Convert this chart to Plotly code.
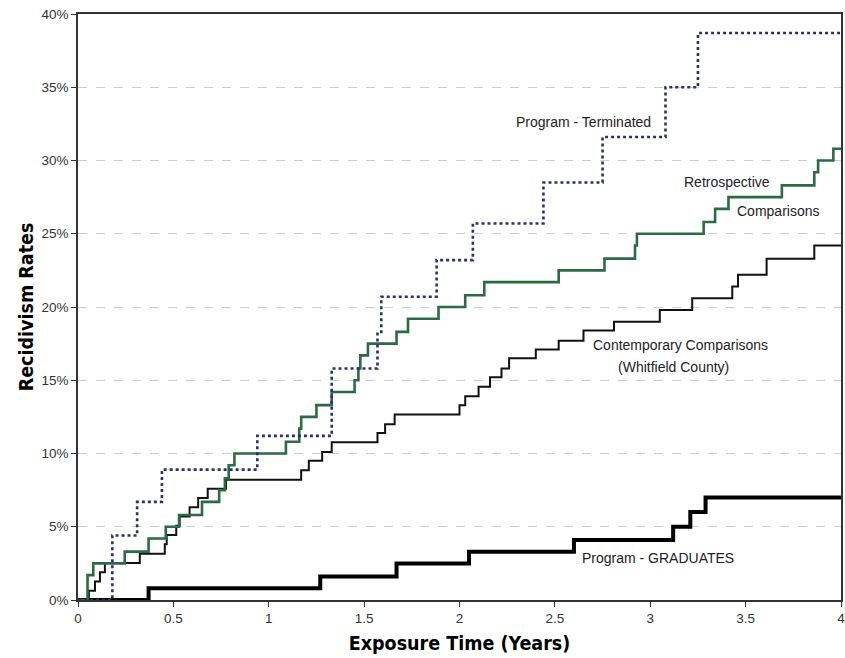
import plotly.graph_objects as go

# Program - Terminated (dotted navy)
term_t = [0, 0.18, 0.31, 0.44, 0.94, 1.33, 1.57, 1.59, 1.88, 2.07, 2.44, 2.75, 3.08, 3.25, 4.0]
term_r = [0, 4.4, 6.7, 8.9, 11.2, 15.8, 18.3, 20.7, 23.2, 25.7, 28.5, 31.6, 35.0, 38.7, 38.7]

# Retrospective Comparisons (green)
retro_t = [0, 0.05, 0.08, 0.245, 0.37, 0.46, 0.53, 0.65, 0.74, 0.77, 0.79, 0.82, 1.09, 1.16, 1.17,
           1.25, 1.33, 1.45, 1.47, 1.48, 1.52, 1.67, 1.73, 1.89, 2.03, 2.13, 2.52, 2.76, 2.92,
           2.93, 3.28, 3.34, 3.41, 3.69, 3.86, 3.88, 3.96, 4.0]
retro_r = [0, 1.7, 2.5, 3.3, 4.2, 5.0, 5.8, 6.7, 7.5, 8.3, 9.2, 10.0, 10.8, 11.7, 12.5,
           13.3, 14.2, 15.0, 15.8, 16.7, 17.5, 18.3, 19.2, 20.0, 20.8, 21.7, 22.5, 23.3, 24.2,
           25.0, 25.8, 26.7, 27.5, 28.3, 29.2, 30.0, 30.8, 30.8]

# Contemporary Comparisons (Whitfield County) (thin black)
cont_t = [0, 0.057, 0.089, 0.115, 0.141, 0.324, 0.455, 0.465, 0.515, 0.533, 0.585, 0.63, 0.68,
          0.776, 1.17, 1.21, 1.28, 1.33, 1.57, 1.61, 1.66, 2.0, 2.03, 2.1, 2.16, 2.22, 2.26,
          2.4, 2.52, 2.65, 2.81, 3.05, 3.22, 3.43, 3.46, 3.61, 3.86, 4.0]
cont_r = [0, 0.63, 1.27, 1.9, 2.53, 3.16, 3.8, 4.43, 5.06, 5.7, 6.33, 6.96, 7.6,
          8.2, 8.86, 9.5, 10.1, 10.76, 11.4, 12.0, 12.66, 13.3, 13.9, 14.56, 15.2, 15.8, 16.5,
          17.1, 17.7, 18.4, 19.0, 19.8, 20.6, 21.4, 22.2, 23.3, 24.2, 24.2]

# Program - GRADUATES (thick black)
grad_t = [0, 0.37, 1.27, 1.67, 2.05, 2.6, 3.12, 3.21, 3.29, 4.0]
grad_r = [0, 0.8, 1.6, 2.5, 3.3, 4.1, 5.0, 6.0, 7.0, 7.0]

y_ticks = [0, 5, 10, 15, 20, 25, 30, 35, 40]
y_labels = [f"{v}%" for v in y_ticks]
x_ticks = [0, 0.5, 1, 1.5, 2, 2.5, 3, 3.5, 4]
x_labels = ["0", "0.5", "1", "1.5", "2", "2.5", "3", "3.5", "4"]

labels = [
    ("Program - Terminated", 2.65, 32.6),
    ("Retrospective", 3.40, 28.5),
    ("Comparisons", 3.67, 26.55),
    ("Contemporary Comparisons", 3.16, 17.4),
    ("(Whitfield County)", 3.12, 15.9),
    ("Program - GRADUATES", 3.04, 2.87),
]

fig = go.Figure()
fig.add_trace(go.Scatter(x=grad_t, y=grad_r, mode="lines", line=dict(shape="hv", color="#000000", width=4),
                         name="Program - GRADUATES"))
fig.add_trace(go.Scatter(x=cont_t, y=cont_r, mode="lines", line=dict(shape="hv", color="#111111", width=2),
                         name="Contemporary Comparisons"))
fig.add_trace(go.Scatter(x=retro_t, y=retro_r, mode="lines", line=dict(shape="hv", color="#2b6a45", width=2.6),
                         name="Retrospective Comparisons"))
fig.add_trace(go.Scatter(x=term_t, y=term_r, mode="lines", line=dict(shape="hv", color="#2e2f6e", width=2.6, dash="dot"),
                         name="Program - Terminated"))

for txt, xx, yy in labels:
    fig.add_annotation(x=xx, y=yy, text=txt, showarrow=False,
                       font=dict(family="Liberation Sans, Arial, sans-serif", size=14, color="#222222"))

font_title = dict(family="DejaVu Sans Condensed, Liberation Sans, Arial, sans-serif", size=19.5, color="#000000")
tick_font = dict(family="Liberation Sans, Arial, sans-serif", size=13.5, color="#333333")

fig.update_layout(
    width=845, height=658,
    margin=dict(l=78, r=0, t=14, b=58),
    paper_bgcolor="white", plot_bgcolor="white",
    showlegend=False,
    xaxis=dict(range=[0, 4], tickvals=x_ticks, ticktext=x_labels, ticks="outside", ticklen=5,
               tickcolor="#333333", showgrid=False, zeroline=False, showline=True, linecolor="#333333",
               linewidth=1.5, mirror=True, tickfont=tick_font, ticklabeloverflow="allow",
               title=dict(text="<b>Exposure Time (Years)</b>", font=font_title, standoff=11)),
    yaxis=dict(range=[0, 40], tickvals=y_ticks, ticktext=y_labels, ticks="outside", ticklen=5,
               tickcolor="#333333", showgrid=True, gridcolor="#cccccc", griddash="dash", gridwidth=1,
               zeroline=False, showline=True, linecolor="#333333", linewidth=1.5, mirror=True,
               tickfont=tick_font,
               title=dict(text="<b>Recidivism Rates</b>", font=font_title, standoff=3)),
)

fig.write_html("out.html")
